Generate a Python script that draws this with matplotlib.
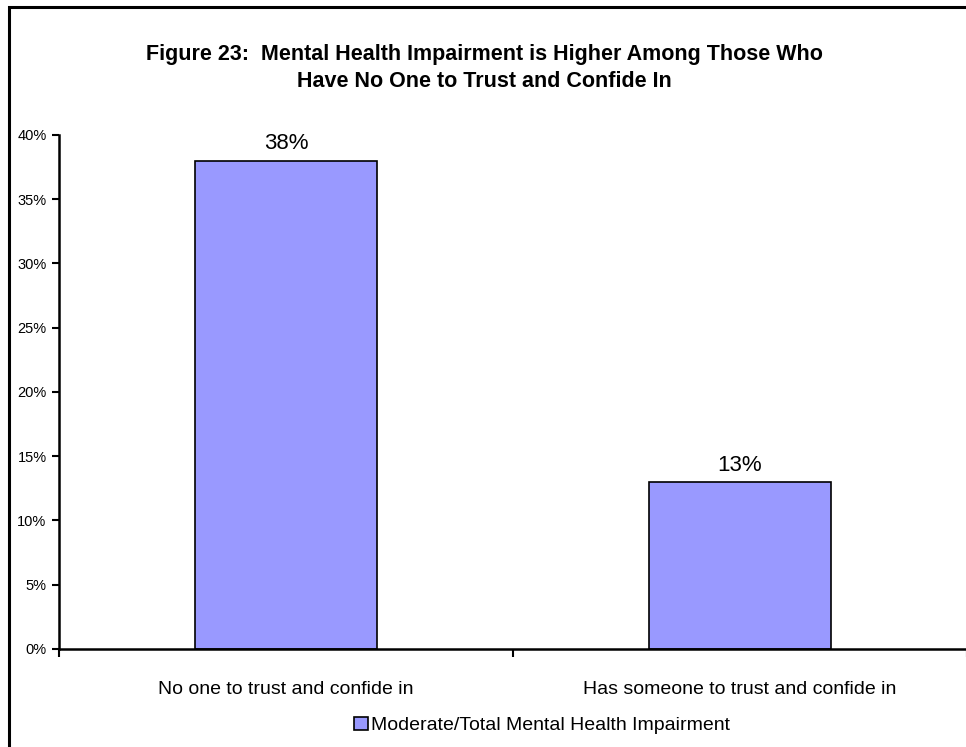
import matplotlib.pyplot as plt
from matplotlib.patches import Rectangle
import numpy as np

plt.rcParams["font.family"] = ["Liberation Sans", "DejaVu Sans"]

categories = ["No one to trust and confide in", "Has someone to trust and confide in"]
values = [38, 13]
series_name = "Moderate/Total Mental Health Impairment"
title = ("Figure 23:  Mental Health Impairment is Higher Among Those Who\n"
         "Have No One to Trust and Confide In")
yticks = [0, 5, 10, 15, 20, 25, 30, 35, 40]

bar_color = "#9999FF"


def main():
    fig = plt.figure(figsize=(9.66, 7.47), dpi=100)
    ax = fig.add_axes([0.0611, 0.1312, 0.9400, 0.6881])

    x = np.arange(len(categories))
    bars = ax.bar(x, values, width=0.4, color=bar_color, edgecolor="black",
                  linewidth=1.2, label=series_name, zorder=2)
    for b, v in zip(bars, values):
        ax.text(b.get_x() + b.get_width() / 2, v + 0.5, f"{v}%",
                ha="center", va="bottom", fontsize=16)

    ax.set_xlim(-0.5, len(categories) - 0.5)
    ax.set_ylim(0, 40)
    ax.set_yticks(yticks)
    ax.set_yticklabels([f"{t}%" for t in yticks], fontsize=10.5)

    # category boundaries carry the ticks, labels sit in the middle
    ax.set_xticks([-0.5, 0.5, 1.5])
    ax.set_xticklabels([])
    ax.set_xticks(x, minor=True)
    ax.set_xticklabels(categories, minor=True, fontsize=14)
    ax.tick_params(axis="x", which="minor", length=0, pad=23)
    ax.tick_params(axis="x", which="major", length=6, width=1.5, direction="out")
    ax.tick_params(axis="y", length=5, width=1.5, direction="out", pad=4)

    for side in ["top", "right"]:
        ax.spines[side].set_visible(False)
    for side in ["left", "bottom"]:
        ax.spines[side].set_linewidth(1.8)

    fig.text(0.501, 0.909, title, ha="center", va="center", fontsize=15.5,
             fontweight="bold", linespacing=1.38)

    fig.legend(handles=[bars], labels=[series_name], loc="center",
               bbox_to_anchor=(0.561, 0.029), frameon=False, fontsize=14,
               handlelength=0.7, handleheight=0.7, handletextpad=0.15,
               borderaxespad=0)

    # outer chart frame, cut off at the right and bottom edge
    frame = Rectangle((8.5 / 966, -0.1), 1.2, 1.1 - 6.5 / 747,
                      transform=fig.transFigure, fill=False,
                      edgecolor="black", linewidth=2.2, clip_on=False)
    fig.patches.append(frame)

    fig.savefig("out.png", dpi=100)


if __name__ == "__main__":
    main()
